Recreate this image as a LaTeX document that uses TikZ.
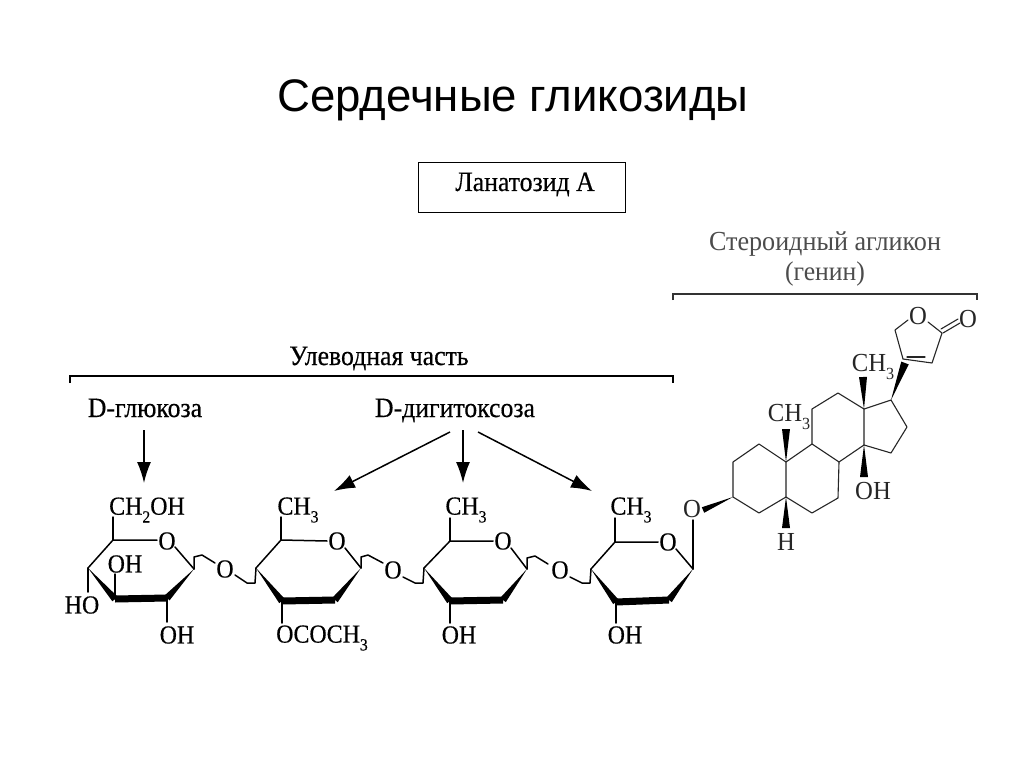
\documentclass[tikz,border=0pt]{standalone}
\usepackage{fontspec}
\setmainfont{Liberation Serif}
\newfontfamily\titlefont{Liberation Sans}
\newfontfamily\scanfont[FakeBold=0.4,FakeStretch=0.92]{Liberation Serif}
\newfontfamily\lightfont[FakeStretch=0.95]{Liberation Serif}
\usetikzlibrary{calc,arrows.meta}
\newcommand{\csub}[1]{\raisebox{-0.3em}{\fontsize{17}{17}\selectfont #1}}
\tikzset{
  bond/.style={draw=black,line width=1.5pt,line join=round,line cap=round},
  stbond/.style={draw=black!85,line width=1.1pt,line join=round,line cap=round},
  chem/.style={font=\scanfont\fontsize{26}{28}\selectfont,inner sep=0pt,text=black},
  stchem/.style={font=\lightfont\fontsize{26}{28}\selectfont,inner sep=0pt,text=black!85},
  head/.style={font=\scanfont\fontsize{28}{30}\selectfont,inner sep=0pt,anchor=base},
  brace/.style={draw=black,line width=1.3pt},
  stbrace/.style={draw=black!80,line width=1.1pt},
  pointer/.style={draw=black,line width=1.5pt,-{Latex[length=21pt,width=14pt]}},
  wedge/.style={fill=black,draw=none},
}
% wedge from thin end #1 to broad end #2 of half-width #3
\newcommand{\wedgeb}[3]{\fill[wedge] (#1) -- ($(#2)!#3!90:(#1)$) -- ($(#2)!#3!-90:(#1)$) -- cycle;}
% thick bond of half-width #3
\newcommand{\thickb}[3]{\fill[wedge] ($(#1)!#3!90:(#2)$) -- ($(#1)!#3!-90:(#2)$) -- ($(#2)!#3!90:(#1)$) -- ($(#2)!#3!-90:(#1)$) -- cycle;}
\begin{document}
\begin{tikzpicture}[x=1pt,y=-1pt]
\path[use as bounding box,fill=white] (0,0) rectangle (1024,767);
% title and headers
\node[font=\titlefont\fontsize{45.6}{50}\selectfont,inner sep=0pt] (title) at (513,100) {Сердечные гликозиды};
\node[draw=black,line width=1pt,minimum width=207pt,minimum height=50pt,inner sep=0pt] (box) at (521.5,188) {};
\node[head] (boxtext) at (525,191) {Ланатозид А};
\node[font=\lightfont\fontsize{27.5}{30}\selectfont,text=black!70,inner sep=0pt,anchor=base] (st1) at (825,250) {Стероидный агликон};
\node[font=\lightfont\fontsize{27}{30}\selectfont,text=black!70,inner sep=0pt,anchor=base] (st2) at (825,280) {(генин)};
\node[head] (sugar) at (379,365) {Улеводная часть};
\node[head] (glc) at (145,417) {D-глюкоза};
\node[head] (dig) at (455,417) {D-дигитоксоза};
% brackets
\coordinate (bsa) at (70,383); \coordinate (bsb) at (70,376); \coordinate (bsc) at (673,376); \coordinate (bsd) at (673,383);
\draw[brace] (bsa) -- (bsb) -- (bsc) -- (bsd);
\coordinate (bga) at (673,300); \coordinate (bgb) at (673,294); \coordinate (bgc) at (977,294); \coordinate (bgd) at (977,300);
\draw[stbrace] (bga) -- (bgb) -- (bgc) -- (bgd);
% pointers
\coordinate (pa0) at (144,430); \coordinate (pa1) at (144,483);
\coordinate (pb0) at (450,432); \coordinate (pb1) at (334,491);
\coordinate (pc0) at (463,430); \coordinate (pc1) at (463,483);
\coordinate (pd0) at (478,432); \coordinate (pd1) at (592,491);
\draw[pointer] (pa0) -- (pa1);
\draw[pointer] (pb0) -- (pb1);
\draw[pointer] (pc0) -- (pc1);
\draw[pointer] (pd0) -- (pd1);
% ring 1
\coordinate (a4) at (88,568); \coordinate (a5) at (113,540); \coordinate (aO) at (157,540);
\coordinate (aOb) at (175,547); \coordinate (a1) at (194,569); \coordinate (a2) at (167,598); \coordinate (a3) at (115,599);
\draw[bond] (aO) -- (a5) -- (a4);
\draw[bond] (aOb) -- (a1);
\wedgeb{a4}{a3}{3.5pt}\wedgeb{a1}{a2}{3.5pt}\thickb{a3}{a2}{3.5pt}
\node[chem] (aOn) at (167,541) {O};
\node[chem] (ach) at (147,510) {CH\csub{2}OH};
\node[chem] (aoh3) at (125,564) {OH};
\node[chem] (aho) at (82,605) {HO};
\node[chem] (aoh2) at (177,635) {OH};
\coordinate (ab1) at (113,517); \coordinate (ab3) at (115,574); \coordinate (ab4) at (88,592); \coordinate (ab2) at (167,622);
\draw[bond] (a5) -- (ab1); \draw[bond] (a3) -- (ab3); \draw[bond] (a4) -- (ab4); \draw[bond] (a2) -- (ab2);
% link 1-2
\coordinate (l1a) at (194,557); \coordinate (l1b) at (202,555); \coordinate (l1c) at (215,563);
\coordinate (l1d) at (235,575); \coordinate (l1e) at (247,583); \coordinate (l1f) at (255,583);
\node[chem] (l1O) at (225,569) {O};
\draw[bond] (a1) -- (l1a) -- (l1b) -- (l1c);
\draw[bond] (l1d) -- (l1e) -- (l1f) -- (256,568);
% ring 2
\coordinate (b4) at (256,568); \coordinate (b5) at (281,540); \coordinate (bO) at (327,541);
\coordinate (bOb) at (345,548); \coordinate (b1) at (361,568); \coordinate (b2) at (335,600); \coordinate (b3) at (282,601);
\draw[bond] (bO) -- (b5) -- (b4); \draw[bond] (bOb) -- (b1);
\wedgeb{b4}{b3}{3.5pt}\wedgeb{b1}{b2}{3.5pt}\thickb{b3}{b2}{3.5pt}
\node[chem] (bOn) at (337,541) {O};
\node[chem] (bch) at (298,510) {CH\csub{3}};
\node[chem] (boc) at (322,638) {OCOCH\csub{3}};
\coordinate (bb1) at (281,517); \coordinate (bb3) at (282,623);
\draw[bond] (b5) -- (bb1); \draw[bond] (b3) -- (bb3);
% link 2-3
\coordinate (l2a) at (361,557); \coordinate (l2b) at (368,555); \coordinate (l2c) at (383,563);
\coordinate (l2d) at (403,577); \coordinate (l2e) at (415,583); \coordinate (l2f) at (423,583);
\node[chem] (l2O) at (393,570) {O};
\draw[bond] (b1) -- (l2a) -- (l2b) -- (l2c);
\draw[bond] (l2d) -- (l2e) -- (l2f) -- (424,568);
% ring 3
\coordinate (c4) at (424,568); \coordinate (c5) at (450,541); \coordinate (cO) at (493,541);
\coordinate (cOb) at (511,548); \coordinate (c1) at (527,569); \coordinate (c2) at (503,600); \coordinate (c3) at (450,601);
\draw[bond] (cO) -- (c5) -- (c4); \draw[bond] (cOb) -- (c1);
\wedgeb{c4}{c3}{3.5pt}\wedgeb{c1}{c2}{3.5pt}\thickb{c3}{c2}{3.5pt}
\node[chem] (cOn) at (503,541) {O};
\node[chem] (cch) at (466,510) {CH\csub{3}};
\node[chem] (coh) at (459,635) {OH};
\coordinate (cb1) at (450,518); \coordinate (cb3) at (450,623);
\draw[bond] (c5) -- (cb1); \draw[bond] (c3) -- (cb3);
% link 3-4
\coordinate (l3a) at (527,558); \coordinate (l3b) at (535,556); \coordinate (l3c) at (548,564);
\coordinate (l3d) at (570,577); \coordinate (l3e) at (582,583); \coordinate (l3f) at (590,583);
\node[chem] (l3O) at (560,570) {O};
\draw[bond] (c1) -- (l3a) -- (l3b) -- (l3c);
\draw[bond] (l3d) -- (l3e) -- (l3f) -- (591,569);
% ring 4
\coordinate (d4) at (591,569); \coordinate (d5) at (615,542); \coordinate (dO) at (658,542);
\coordinate (dOb) at (676,549); \coordinate (d1) at (693,569); \coordinate (d2) at (669,600); \coordinate (d3) at (616,602);
\draw[bond] (dO) -- (d5) -- (d4); \draw[bond] (dOb) -- (d1);
\wedgeb{d4}{d3}{3.5pt}\wedgeb{d1}{d2}{3.5pt}\thickb{d3}{d2}{3.5pt}
\node[chem] (dOn) at (668,542) {O};
\node[chem] (dch) at (631,510) {CH\csub{3}};
\node[chem] (doh) at (625,635) {OH};
\coordinate (db1) at (615,518); \coordinate (db3) at (616,623); \coordinate (db2) at (693,520);
\draw[bond] (d5) -- (db1); \draw[bond] (d3) -- (db3); \draw[bond] (d1) -- (db2);
% steroid
\node[stchem] (eO) at (692,509) {O};
\coordinate (s3) at (733,497); \coordinate (s2) at (733,462); \coordinate (s1) at (759,444);
\coordinate (s10) at (786,462); \coordinate (s5) at (786,497); \coordinate (s4) at (759,513);
\coordinate (s9) at (812,444); \coordinate (s8) at (839,462); \coordinate (s7) at (838,498); \coordinate (s6) at (812,513);
\coordinate (s11) at (812,409); \coordinate (s12) at (838,393); \coordinate (s13) at (864,409); \coordinate (s14) at (864,445);
\coordinate (s17) at (891,400); \coordinate (s16) at (907,427); \coordinate (s15) at (891,453);
\draw[stbond] (s3) -- (s2) -- (s1) -- (s10) -- (s5) -- (s4) -- cycle;
\draw[stbond] (s10) -- (s9) -- (s8) -- (s7) -- (s6) -- (s5);
\draw[stbond] (s9) -- (s11) -- (s12) -- (s13) -- (s14) -- (s8);
\draw[stbond] (s13) -- (s17) -- (s16) -- (s15) -- (s14);
\coordinate (wO) at (703,510); \coordinate (w10) at (786,429); \coordinate (w5) at (786,528);
\coordinate (w14) at (864,477); \coordinate (w13) at (863,377); \coordinate (w17) at (905,363);
\wedgeb{s3}{wO}{3pt}
\wedgeb{s10}{w10}{4pt}\wedgeb{s5}{w5}{4pt}\wedgeb{s14}{w14}{4pt}\wedgeb{s13}{w13}{4pt}\wedgeb{s17}{w17}{4pt}
\node[stchem] (mA) at (789,417) {CH\csub{3}};
\node[stchem] (mB) at (873,367) {CH\csub{3}};
\node[stchem] (hn) at (786,542) {H};
\node[stchem] (ohn) at (873,491) {OH};
% lactone
\coordinate (t3) at (903,359); \coordinate (t2) at (895,330); \coordinate (tOa) at (908,320);
\coordinate (tOb) at (928,322); \coordinate (t5) at (942,333); \coordinate (t4) at (932,363);
\coordinate (t3i) at (907,357); \coordinate (t4i) at (925,357);
\coordinate (t5a) at (943,333); \coordinate (t5ae) at (960,323); \coordinate (t5b) at (941,329); \coordinate (t5be) at (958,319);
\draw[stbond] (t3) -- (t2) -- (tOa);
\draw[stbond] (tOb) -- (t5) -- (t4) -- (t3);
\draw[stbond] (t3i) -- (t4i);
\draw[stbond] (t5a) -- (t5ae);
\draw[stbond] (t5b) -- (t5be);
\node[stchem] (tO) at (918,316) {O};
\node[stchem] (tO2) at (968,319) {O};
\end{tikzpicture}
\end{document}
